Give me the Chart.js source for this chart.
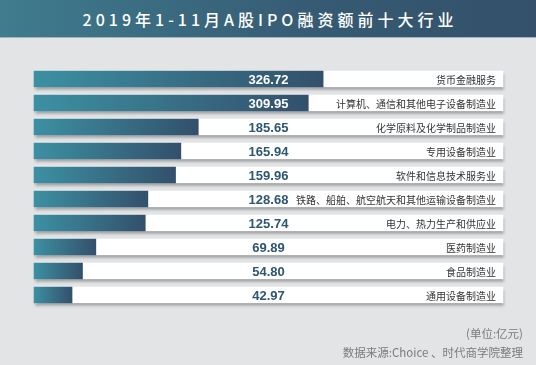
<!DOCTYPE html>
<html>
<head>
<meta charset="utf-8">
<script src="https://cdn.jsdelivr.net/npm/chart.js@4/dist/chart.umd.min.js"></script>
<style>
  html, body { margin: 0; padding: 0; }
  body { width: 536px; height: 365px; background: #e3e4e6; position: relative; overflow: hidden; font-family: "Noto Sans CJK SC", "Noto Sans", sans-serif; }
  .banner { position: absolute; left: 0; top: 0; width: 536px; height: 37px; background: linear-gradient(90deg, #3f7c8d, #365a73 60%, #34506a); border-bottom: 1px solid #9fb4bd; z-index: 2; }
  .banner h1 { margin: 0; font-size: 16px; font-weight: 500; color: #fff; letter-spacing: 4px; text-align: center; line-height: 38px; padding-left: 4px; }
  .wrap { position: absolute; left: 0; top: 0; width: 536px; height: 365px; z-index: 1; }
  .note { position: absolute; right: 13px; font-size: 11.5px; color: #7b7b7b; z-index: 2; }
</style>
</head>
<body>
<div class="banner"><h1>2019年1-11月A股IPO融资额前十大行业</h1></div>
<div class="wrap"><canvas id="myChart"></canvas></div>
<div class="note" style="top:325px">(单位:亿元)</div>
<div class="note" style="top:344px">数据来源:Choice 、时代商学院整理</div>
<script>
const industries = [
  "货币金融服务",
  "计算机、通信和其他电子设备制造业",
  "化学原料及化学制品制造业",
  "专用设备制造业",
  "软件和信息技术服务业",
  "铁路、船舶、航空航天和其他运输设备制造业",
  "电力、热力生产和供应业",
  "医药制造业",
  "食品制造业",
  "通用设备制造业",
];
const amounts = [326.72, 309.95, 185.65, 165.94, 159.96, 128.68, 125.74, 69.89, 54.8, 42.97];
const trackMax = 530;
const track = industries.map(() => trackMax);
const labelAt = 265;

function barGradient(ctx) {
  const chart = ctx.chart;
  if (!chart.chartArea || ctx.type !== "data") return "#3a7f93";
  const x = chart.scales.x;
  const x0 = x.getPixelForValue(0);
  const x1 = x.getPixelForValue(amounts[ctx.dataIndex]);
  const g = chart.ctx.createLinearGradient(x0, 0, x1, 0);
  g.addColorStop(0, "#3c90a2");
  g.addColorStop(1, "#33506b");
  return g;
}

const shadowAndText = {
  id: "shadowAndText",
  beforeDatasetDraw(chart, args) {
    if (args.index === 1) {
      const c = chart.ctx;
      c.save();
      c.shadowColor = "rgba(0,0,0,0.35)";
      c.shadowBlur = 3;
      c.shadowOffsetX = 1;
      c.shadowOffsetY = 3;
    }
  },
  afterDatasetDraw(chart, args) {
    if (args.index === 1) chart.ctx.restore();
  },
  afterDatasetsDraw(chart) {
    const c = chart.ctx;
    const x = chart.scales.x;
    const y = chart.scales.y;
    c.save();
    c.textBaseline = "middle";
    industries.forEach((name, i) => {
      const cy = y.getPixelForValue(i);
      const lx = x.getPixelForValue(labelAt);
      c.font = "bold 13px 'Liberation Sans', Arial, sans-serif";
      c.textAlign = "center";
      const w = c.measureText(amounts[i].toFixed(2)).width;
      c.fillStyle = x.getPixelForValue(amounts[i]) > lx + w / 2 ? "#ffffff" : "#2d5672";
      c.fillText(amounts[i].toFixed(2), lx, cy + 1);
      c.font = "10px 'Noto Sans CJK SC', sans-serif";
      c.textAlign = "right";
      c.fillStyle = "#333333";
      c.fillText(name, chart.chartArea.right - 7, cy + 1);
    });
    c.restore();
  },
};

new Chart(document.getElementById("myChart"), {
  type: "bar",
  data: {
    labels: industries,
    datasets: [
      {
        label: "融资额",
        data: amounts,
        backgroundColor: barGradient,
        barThickness: 16,
        grouped: false,
        order: 0,
        clip: false,
      },
      {
        label: "track",
        data: track,
        backgroundColor: "#ffffff",
        barThickness: 16,
        grouped: false,
        order: 1,
        clip: false,
      },
    ],
  },
  options: {
    indexAxis: "y",
    responsive: true,
    maintainAspectRatio: false,
    animation: false,
    layout: { padding: { left: 34, right: 33, top: 67, bottom: 58 } },
    scales: {
      x: { display: false, min: 0, max: trackMax },
      y: { display: false },
    },
    plugins: {
      legend: { display: false },
      tooltip: { enabled: false },
    },
  },
  plugins: [shadowAndText],
});
</script>
</body>
</html>
